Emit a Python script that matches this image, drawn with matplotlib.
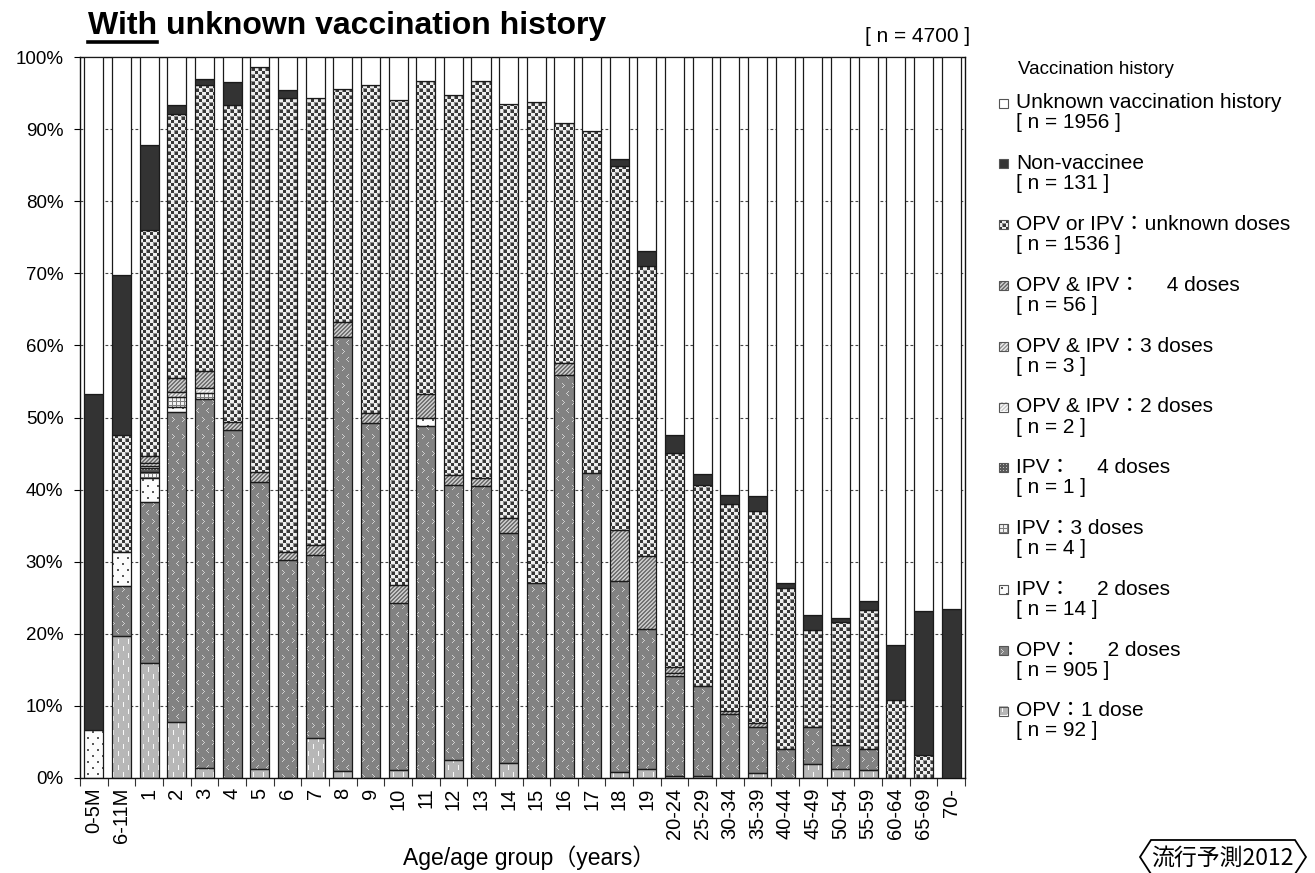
import numpy as np
import matplotlib
matplotlib.use("Agg")
import matplotlib.pyplot as plt
from matplotlib.path import Path
from matplotlib.patches import PathPatch, Rectangle, Polygon
from matplotlib.lines import Line2D

# ---------------- data (percent of each age group) ----------------
categories = ["0-5M", "6-11M", "1", "2", "3", "4", "5", "6", "7", "8", "9", "10",
              "11", "12", "13", "14", "15", "16", "17", "18", "19",
              "20-24", "25-29", "30-34", "35-39", "40-44", "45-49", "50-54",
              "55-59", "60-64", "65-69", "70-"]

opv_1dose = [0, 19.7, 15.9, 7.8, 1.4, 0, 1.3, 0, 5.5, 1.0, 0, 1.1, 0, 2.5, 0, 2.1,
             0, 0, 0, 0.8, 1.2, 0.3, 0.3, 0, 0.7, 0, 1.9, 1.3, 1.1, 0, 0, 0]
opv_2doses = [0, 6.9, 22.4, 43.0, 51.2, 48.2, 39.7, 30.2, 25.4, 60.2, 49.2, 23.2,
              48.8, 38.1, 40.5, 31.9, 27.0, 55.9, 42.3, 26.5, 19.5, 13.9, 12.5,
              8.9, 6.4, 4.0, 5.2, 3.3, 2.9, 0, 0, 0]
ipv_2doses = [6.6, 4.7, 3.3, 0.7, 0, 0, 0, 0, 0, 0, 0, 0, 1.1, 0, 0, 0,
              0, 0, 0, 0, 0, 0, 0, 0, 0, 0, 0, 0, 0, 0, 0, 0]
ipv_3doses = [0, 0, 0.9, 1.3, 0.8, 0, 0, 0, 0, 0, 0, 0, 0, 0, 0, 0,
              0, 0, 0, 0, 0, 0, 0, 0, 0, 0, 0, 0, 0, 0, 0, 0]
ipv_4doses = [0, 0, 0.5, 0, 0, 0, 0, 0, 0, 0, 0, 0, 0, 0, 0, 0,
              0, 0, 0, 0, 0, 0, 0, 0, 0, 0, 0, 0, 0, 0, 0, 0]
opv_ipv_2doses = [0, 0, 0.3, 0, 0.7, 0, 0, 0, 0, 0, 0, 0, 0, 0, 0, 0,
                  0, 0, 0, 0, 0, 0, 0, 0, 0, 0, 0, 0, 0, 0, 0, 0]
opv_ipv_3doses = [0, 0, 0.4, 0.7, 0, 0, 0, 0, 0, 0, 0, 0, 0, 0, 0, 0,
                  0, 0, 0, 0, 0, 0.3, 0, 0, 0, 0, 0, 0, 0, 0, 0, 0]
opv_ipv_4doses = [0, 0, 0.9, 2.0, 2.3, 1.2, 1.4, 1.1, 1.4, 2.1, 1.4, 2.4, 3.3, 1.4,
                  1.1, 2.1, 0, 1.6, 0, 7.1, 10.1, 0.9, 0, 0.4, 0.5, 0, 0, 0, 0, 0, 0, 0]
unknown_doses = [0, 16.3, 31.4, 36.6, 39.7, 43.9, 56.2, 63.0, 62.0, 32.3, 45.5, 67.4,
                 43.5, 52.7, 55.1, 57.4, 66.8, 33.3, 47.4, 50.5, 40.2, 29.7, 27.9,
                 28.7, 29.4, 22.3, 13.4, 17.1, 19.3, 10.8, 3.2, 0]
non_vaccinee = [46.7, 22.1, 11.8, 1.3, 0.8, 3.3, 0, 1.1, 0, 0, 0, 0, 0, 0, 0, 0,
                0, 0, 0, 0.9, 2.1, 2.5, 1.4, 1.3, 2.1, 0.8, 2.1, 0.5, 1.2, 7.7, 20.0, 23.4]
unknown_history = [46.7, 30.3, 12.2, 6.6, 3.1, 3.4, 1.4, 4.6, 5.7, 4.4, 3.9, 5.9, 3.3,
                   5.3, 3.3, 6.5, 6.2, 9.2, 10.3, 14.2, 26.9, 52.4, 57.9, 60.7, 60.9,
                   72.9, 77.4, 77.8, 75.5, 81.5, 76.8, 76.6]

legend_labels = ["Unknown vaccination history", "Non-vaccinee",
                 "OPV or IPV\uff1aunknown doses", "OPV & IPV\uff1a\u3000 4 doses",
                 "OPV & IPV\uff1a3 doses", "OPV & IPV\uff1a2 doses",
                 "IPV\uff1a\u3000 4 doses", "IPV\uff1a3 doses", "IPV\uff1a\u3000 2 doses",
                 "OPV\uff1a\u3000 2 doses", "OPV\uff1a1 dose"]
legend_counts = [1956, 131, 1536, 56, 3, 2, 1, 4, 14, 905, 92]

# ---------------- textures ----------------
def tile_checker():
    t = np.full((7, 7), 0.94)
    t[:3, :3] = 0.22
    t[3:7, 3:7] = 0.22
    t[3:7, 3] = 0.55
    t[3, 3:7] = 0.55
    return t

def tile_opv2():
    t = np.full((17, 10), 0.51)
    for r, c in [(3, 2), (4, 3), (5, 4), (6, 3), (7, 2),
                 (11, 8), (12, 7), (13, 6), (14, 7), (15, 8)]:
        t[r % 17, c] = 0.82
    return t

def tile_opv1():
    t = np.full((14, 10), 0.72)
    t[1:6, 3] = 0.98
    t[8:13, 8] = 0.98
    return t

def tile_ipv2():
    t = np.full((12, 10), 0.99)
    t[2:4, 2:4] = 0.35
    t[8:10, 7:9] = 0.35
    return t

def tile_ipv3():
    t = np.full((4, 4), 0.95)
    t[0, :] = 0.5
    t[:, 0] = 0.5
    return t

def tile_ipv4():
    t = np.full((3, 3), 0.35)
    t[1, 1] = 0.75
    return t

def tile_diag(base, light):
    t = np.full((4, 4), base)
    for r in range(4):
        for c in range(4):
            if (r + c) % 4 in (0, 1):
                t[r, c] = light
    return t

# stacking order bottom -> top : (values, solid colour or None, tile)
series = [
    (opv_1dose, None, tile_opv1()),
    (opv_2doses, None, tile_opv2()),
    (ipv_2doses, None, tile_ipv2()),
    (ipv_3doses, None, tile_ipv3()),
    (ipv_4doses, None, tile_ipv4()),
    (opv_ipv_2doses, None, tile_diag(0.80, 0.96)),
    (opv_ipv_3doses, None, tile_diag(0.62, 0.90)),
    (opv_ipv_4doses, None, tile_diag(0.45, 0.78)),
    (unknown_doses, None, tile_checker()),
    (non_vaccinee, "#333333", None),
    (unknown_history, "#ffffff", None),
]

# ---------------- figure ----------------
W, H = 1315, 873
fig = plt.figure(figsize=(W / 100, H / 100), dpi=100)
AX_L, AX_R, AX_T, AX_B = 80, 965, 57, 778
ax = fig.add_axes([AX_L / W, 1 - AX_B / H, (AX_R - AX_L) / W, (AX_B - AX_T) / H])
axw, axh = AX_R - AX_L, AX_B - AX_T

n = len(categories)
x = np.arange(n)
BW = 0.69
XLIM = (-0.5, n - 0.5)

def texture_img(tile):
    reps = (axh // tile.shape[0] + 2, axw // tile.shape[1] + 2)
    g = np.tile(tile, reps)[:axh, :axw]
    return np.dstack([g, g, g])

def bars_path(container):
    paths = []
    for r in container.patches:
        x0, y0, w, h = r.get_x(), r.get_y(), r.get_width(), r.get_height()
        paths.append(Path([(x0, y0), (x0 + w, y0), (x0 + w, y0 + h), (x0, y0 + h), (x0, y0)],
                          [Path.MOVETO, Path.LINETO, Path.LINETO, Path.LINETO, Path.CLOSEPOLY]))
    return Path.make_compound_path(*paths)

bottom = np.zeros(n)
for vals, col, tile in series:
    v = np.array(vals, dtype=float)
    m = v > 0
    if tile is None:
        ax.bar(x[m], v[m], bottom=bottom[m], width=BW, facecolor=col,
               edgecolor="#1a1a1a", linewidth=0.9, zorder=3)
    else:
        cont = ax.bar(x[m], v[m], bottom=bottom[m], width=BW, facecolor="none",
                      edgecolor="#1a1a1a", linewidth=0.9, zorder=3)
        im = ax.imshow(texture_img(tile), extent=(XLIM[0], XLIM[1], 0, 100),
                       aspect="auto", interpolation="nearest", origin="upper", zorder=2.5)
        pp = PathPatch(bars_path(cont), transform=ax.transData, facecolor="none", edgecolor="none")
        im.set_clip_path(pp)
    bottom = bottom + v

ax.set_xlim(*XLIM)
ax.set_ylim(0, 100)
ax.set_aspect("auto")

ax.set_yticks(np.arange(0, 101, 10))
ax.set_yticklabels([f"{t}%" for t in range(0, 101, 10)], fontsize=13.5, family="Liberation Sans")
ax.grid(axis="y", linestyle=(0, (2.5, 2)), color="#444444", linewidth=0.8)
ax.set_axisbelow(True)

ax.set_xticks(x)
ax.set_xticklabels(categories, rotation=90, fontsize=14.5, family="Liberation Sans", va="top")
ax.set_xticks(np.arange(-0.5, n, 1), minor=True)
ax.tick_params(axis="x", which="major", length=0, pad=7)
ax.tick_params(axis="x", which="minor", length=6, width=0.8, color="#333333")
ax.tick_params(axis="y", length=4, width=0.8, pad=8)
for s in ax.spines.values():
    s.set_linewidth(1.0)
    s.set_color("#111111")

# ---------------- texts ----------------
def fx(px):
    return px / W

def fy(py):
    return 1 - py / H

title = fig.text(fx(88), fy(26), "With unknown vaccination history", fontsize=23,
                 fontweight="bold", family="Liberation Sans", va="center", ha="left")
fig.canvas.draw()
r = fig.canvas.get_renderer()
tw = fig.text(fx(88), fy(26), "With", fontsize=23, fontweight="bold",
              family="Liberation Sans", va="center", ha="left", alpha=0)
bb = tw.get_window_extent(renderer=r)
fig.add_artist(Line2D([bb.x0 / W, bb.x1 / W], [fy(41.5), fy(41.5)], color="black",
                      linewidth=2.6, transform=fig.transFigure))
tw.remove()

fig.text(fx(970), fy(36), "[ n = 4700 ]", fontsize=15,
         family="Liberation Sans", ha="right", va="center")
fig.text(fx(529), fy(858), "Age/age group\uff08years\uff09", fontsize=16.5,
         family=["Liberation Sans", "Noto Sans CJK JP"], ha="center", va="center")

# ---------------- legend ----------------
fig.text(fx(1018), fy(69), "Vaccination history", fontsize=13.5, family="Liberation Sans",
         ha="left", va="center")
legend_tiles = [None, None, tile_checker(), tile_diag(0.45, 0.78), tile_diag(0.62, 0.90),
                tile_diag(0.80, 0.96), tile_ipv4(), tile_ipv3(), tile_ipv2(),
                tile_opv2(), tile_opv1()]
legend_solid = ["#ffffff", "#333333"] + [None] * 9
y0 = 103
dy = 60.8
ICON = 9
for i, (lab, cnt) in enumerate(zip(legend_labels, legend_counts)):
    yc = y0 + i * dy
    ix, iy = 999, yc - ICON / 2
    if legend_tiles[i] is not None:
        t = legend_tiles[i]
        g = np.tile(t, (ICON // t.shape[0] + 2, ICON // t.shape[1] + 2))[:ICON, :ICON]
        fig.figimage(np.dstack([g, g, g]), xo=ix, yo=H - iy - ICON, origin="upper", zorder=2)
        fc = "none"
    else:
        fc = legend_solid[i]
    fig.add_artist(Rectangle((fx(ix), fy(iy + ICON)), ICON / W, ICON / H, facecolor=fc,
                             edgecolor="#555555", linewidth=0.8, transform=fig.transFigure,
                             zorder=3))
    fig.text(fx(1016), fy(yc), lab, fontsize=15,
             family=["Liberation Sans", "Noto Sans CJK JP"], ha="left", va="center")
    fig.text(fx(1016), fy(yc + 20), f"[ n = {cnt} ]", fontsize=15,
             family="Liberation Sans", ha="left", va="center")

# ---------------- badge ----------------
pts = [(1140, 857), (1151, 840), (1295, 840), (1306, 857), (1295, 874), (1151, 874)]
fig.add_artist(Polygon([(fx(a), fy(b)) for a, b in pts], closed=True, facecolor="white",
                       edgecolor="black", linewidth=1.3, transform=fig.transFigure))
fig.text(fx(1222), fy(858), "\u6d41\u884c\u4e88\u6e2c2012", fontsize=16.5, style="italic",
         family=["Noto Sans CJK JP"], ha="center", va="center")

fig.savefig("out.png", dpi=100)
